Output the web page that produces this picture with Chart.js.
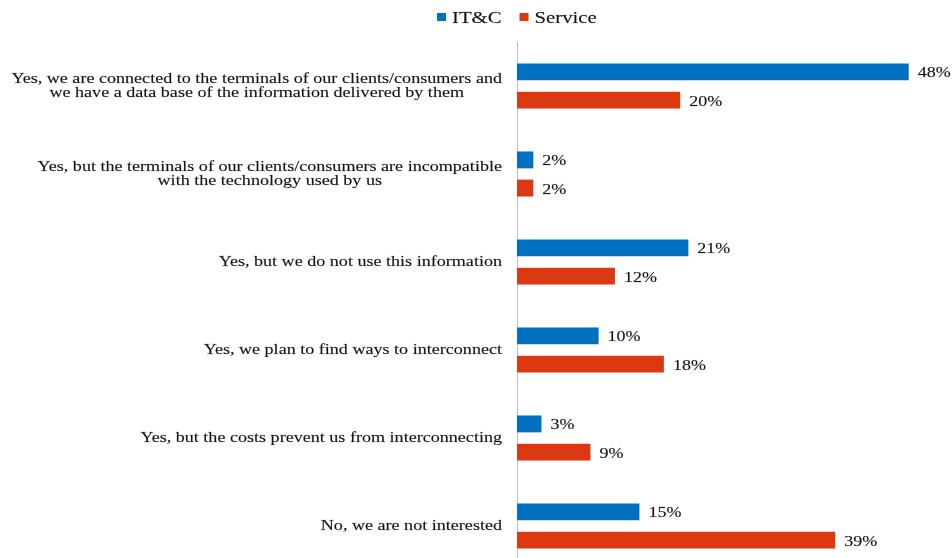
<!DOCTYPE html>
<html>
<head>
<meta charset="utf-8">
<script src="https://cdn.jsdelivr.net/npm/chart.js@4/dist/chart.umd.min.js"></script>
<style>
    html, body { margin: 0; padding: 0; background: #fff; overflow: hidden; }
    #wrap { position: relative; width: 952px; height: 570px; }
</style>
</head>
<body>
<div id="wrap"><canvas id="interconnect-chart"></canvas></div>
<script>
const categories = [
    ['Yes, we are connected to the terminals of our clients/consumers and', 'we have a data base of the information delivered by them'],
    ['Yes, but the terminals of our clients/consumers are incompatible', 'with the technology used by us'],
    ['Yes, but we do not use this information'],
    ['Yes, we plan to find ways to interconnect'],
    ['Yes, but the costs prevent us from interconnecting'],
    ['No, we are not interested'],
];
const seriesNames = ['IT&C', 'Service'];
const itcValues = [48, 2, 21, 10, 3, 15];
const serviceValues = [20, 2, 12, 18, 9, 39];

const SERIF = "'Liberation Serif', 'Times New Roman', serif";
const TEXT_COLOR = '#141414';
const COLORS = ['#0070C0', '#DC3912'];

// serif text drawn a little wider than the font's natural width
function wideText(ctx, text, x, y, stretch) {
    ctx.save();
    ctx.translate(x, y);
    ctx.scale(stretch, 1);
    ctx.fillText(text, 0, 0);
    ctx.strokeText(text, 0, 0);
    ctx.restore();
}

// category text sits left of the axis: each block right-aligned, its lines centred
const categoryLabels = {
    id: 'categoryLabels',
    afterDraw(chart) {
        const { ctx, scales: { y } } = chart;
        const right = 502;
        const lineHeight = 14.5;
        const stretch = 1.205;
        ctx.save();
        ctx.font = `15px ${SERIF}`;
        ctx.fillStyle = TEXT_COLOR;
        ctx.strokeStyle = 'rgba(20, 20, 20, 0.35)';
        ctx.lineWidth = 0.4;
        ctx.textAlign = 'center';
        ctx.textBaseline = 'middle';
        categories.forEach((lines, i) => {
            const width = Math.max(...lines.map(l => ctx.measureText(l).width)) * stretch;
            const cx = right - width / 2;
            const cy = y.getPixelForTick(i);
            lines.forEach((line, j) => {
                wideText(ctx, line, cx, cy + (j - (lines.length - 1) / 2) * lineHeight, stretch);
            });
        });
        ctx.restore();
    },
};

// percentage after the end of each bar
const valueLabels = {
    id: 'valueLabels',
    afterDatasetsDraw(chart) {
        const { ctx } = chart;
        ctx.save();
        ctx.font = `15px ${SERIF}`;
        ctx.fillStyle = TEXT_COLOR;
        ctx.strokeStyle = 'rgba(20, 20, 20, 0.35)';
        ctx.lineWidth = 0.4;
        ctx.textAlign = 'left';
        ctx.textBaseline = 'middle';
        chart.data.datasets.forEach((ds, di) => {
            chart.getDatasetMeta(di).data.forEach((bar, i) => {
                wideText(ctx, ds.data[i] + '%', bar.x + 9, bar.y + 1.5, 1.2);
            });
        });
        ctx.restore();
    },
};

// legend row above the axis
const seriesLegend = {
    id: 'seriesLegend',
    afterDraw(chart) {
        const { ctx } = chart;
        const stretch = 1.22;
        ctx.save();
        ctx.font = `17px ${SERIF}`;
        ctx.strokeStyle = 'rgba(20, 20, 20, 0.35)';
        ctx.lineWidth = 0.4;
        ctx.textAlign = 'left';
        ctx.textBaseline = 'middle';
        let x = 437;
        const cy = 17;
        chart.data.datasets.forEach((ds) => {
            ctx.fillStyle = ds.backgroundColor;
            ctx.fillRect(x, cy - 4, 9, 8);
            ctx.fillStyle = TEXT_COLOR;
            wideText(ctx, ds.label, x + 15, cy + 1.5, stretch);
            x += 15 + ctx.measureText(ds.label).width * stretch + 18;
        });
        ctx.restore();
    },
};

new Chart(document.getElementById('interconnect-chart'), {
    type: 'bar',
    data: {
        labels: categories,
        datasets: [
            {
                label: seriesNames[0],
                data: itcValues,
                backgroundColor: COLORS[0],
                categoryPercentage: 0.64,
                barPercentage: 0.6,
            },
            {
                label: seriesNames[1],
                data: serviceValues,
                backgroundColor: COLORS[1],
                categoryPercentage: 0.64,
                barPercentage: 0.6,
            },
        ],
    },
    options: {
        indexAxis: 'y',
        responsive: true,
        maintainAspectRatio: false,
        animation: false,
        layout: {
            padding: { left: 82, right: 27, top: 42, bottom: 0 },
        },
        plugins: {
            legend: { display: false },
            tooltip: { enabled: false },
        },
        scales: {
            x: {
                display: false,
                min: 0,
                max: 50,
            },
            y: {
                grid: { display: false },
                border: { display: true, color: '#bfbfbf', width: 1 },
                ticks: { display: false },
                afterFit(scale) {
                    scale.width = 435;
                },
            },
        },
    },
    plugins: [categoryLabels, valueLabels, seriesLegend],
});
</script>
</body>
</html>
